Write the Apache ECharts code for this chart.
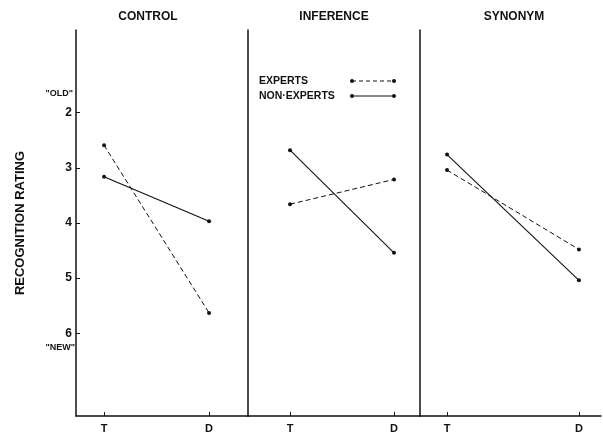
<!DOCTYPE html>
<html>
<head>
<meta charset="utf-8">
<script src="https://cdn.jsdelivr.net/npm/echarts@6/dist/echarts.min.js"></script>
<style>
html, body { margin: 0; padding: 0; background: #fff; }
#chart { width: 603px; height: 434px; }
</style>
</head>
<body>
<div id="chart"></div>
<script>
// values (rating: 1 = "old", 7 = "new")
var conditions = ['CONTROL', 'INFERENCE', 'SYNONYM'];
var positions = ['T', 'D'];
var expertsT = [2.59, 3.66, 3.04];
var expertsD = [5.63, 3.21, 4.48];
var nonExpertsT = [3.16, 2.68, 2.76];
var nonExpertsD = [3.97, 4.54, 5.04];
var ratingTicks = [2, 3, 4, 5, 6];

var ink = '#111';
var font = 'Liberation Sans';

// panel boxes and x ranges (T = 0, D = 1)
var panels = [
    { left: 76, width: 172, min: -0.267, max: 1.371 },
    { left: 248, width: 172, min: -0.404, max: 1.25 },
    { left: 420, width: 181, min: -0.205, max: 1.167 }
];

var grids = [], xAxes = [], yAxes = [], series = [], graphics = [];

panels.forEach(function (p, i) {
    grids.push({ left: p.left, width: p.width, top: 30, height: 386 });

    xAxes.push({
        type: 'value', gridIndex: i, min: p.min, max: p.max,
        position: 'bottom',
        axisLine: { onZero: false, lineStyle: { color: ink, width: 1.5 } },
        axisTick: { inside: true, length: 4, customValues: [0, 1], lineStyle: { color: ink } },
        axisLabel: {
            customValues: [0, 1], margin: 7, color: ink,
            fontFamily: font, fontWeight: 'bold', fontSize: 11,
            formatter: function (v) { return positions[Math.round(v)]; }
        },
        splitLine: { show: false }
    });

    var y = {
        type: 'value', gridIndex: i, min: 0.5, max: 7.5, inverse: true,
        axisLine: { show: true, onZero: false, lineStyle: { color: ink, width: 1.5 } },
        axisTick: { show: false },
        axisLabel: { show: false },
        splitLine: { show: false }
    };
    if (i === 0) {
        y.axisTick = { show: true, inside: true, length: 4, customValues: ratingTicks, lineStyle: { color: ink } };
        y.axisLabel = { show: true, customValues: ratingTicks, margin: 4, color: ink,
            fontFamily: font, fontWeight: 'bold', fontSize: 12 };
        y.name = 'RECOGNITION RATING';
        y.nameLocation = 'middle';
        y.nameGap = 49;
        y.nameRotate = 90;
        y.nameTextStyle = { color: ink, fontFamily: font, fontWeight: 'bold', fontSize: 13 };
    }
    yAxes.push(y);

    series.push({
        name: 'EXPERTS', type: 'line', xAxisIndex: i, yAxisIndex: i,
        data: [[0, expertsT[i]], [1, expertsD[i]]],
        symbol: 'circle', symbolSize: 4,
        itemStyle: { color: ink },
        lineStyle: { color: ink, width: 1, type: [5, 3] },
        silent: true, animation: false
    });
    series.push({
        name: 'NON-EXPERTS', type: 'line', xAxisIndex: i, yAxisIndex: i,
        data: [[0, nonExpertsT[i]], [1, nonExpertsD[i]]],
        symbol: 'circle', symbolSize: 4,
        itemStyle: { color: ink },
        lineStyle: { color: ink, width: 1.1 },
        silent: true, animation: false
    });
});

// panel titles
var titleCenters = [148, 334, 514];
conditions.forEach(function (c, i) {
    graphics.push({
        type: 'text', x: titleCenters[i], y: 17,
        style: { text: c, fill: ink, font: 'bold 12px ' + font, textAlign: 'center', textVerticalAlign: 'middle' }
    });
});

// "OLD" / "NEW" anchors on the rating scale
graphics.push({ type: 'text', x: 73, y: 94,
    style: { text: '"OLD"', fill: ink, font: 'bold 9px ' + font, textAlign: 'right', textVerticalAlign: 'middle' } });
graphics.push({ type: 'text', x: 75, y: 348,
    style: { text: '"NEW"', fill: ink, font: 'bold 9px ' + font, textAlign: 'right', textVerticalAlign: 'middle' } });

// legend, drawn by hand inside the inference panel
var legendRows = [
    { label: 'EXPERTS', y: 81, dash: [4, 3] },
    { label: 'NON\u00b7EXPERTS', y: 96, dash: null }
];
legendRows.forEach(function (r) {
    graphics.push({ type: 'text', x: 259, y: r.y,
        style: { text: r.label, fill: ink, font: 'bold 10.5px ' + font, textVerticalAlign: 'middle' } });
    graphics.push({ type: 'line', shape: { x1: 352, y1: r.y, x2: 394, y2: r.y },
        style: { stroke: ink, lineWidth: 1, lineDash: r.dash } });
    graphics.push({ type: 'circle', shape: { cx: 352, cy: r.y, r: 2 }, style: { fill: ink } });
    graphics.push({ type: 'circle', shape: { cx: 394, cy: r.y, r: 2 }, style: { fill: ink } });
});

var option = {
    backgroundColor: '#fff',
    animation: false,
    grid: grids,
    xAxis: xAxes,
    yAxis: yAxes,
    series: series,
    graphic: graphics
};

var myChart = echarts.init(document.getElementById('chart'));
myChart.setOption(option);
</script>
</body>
</html>
